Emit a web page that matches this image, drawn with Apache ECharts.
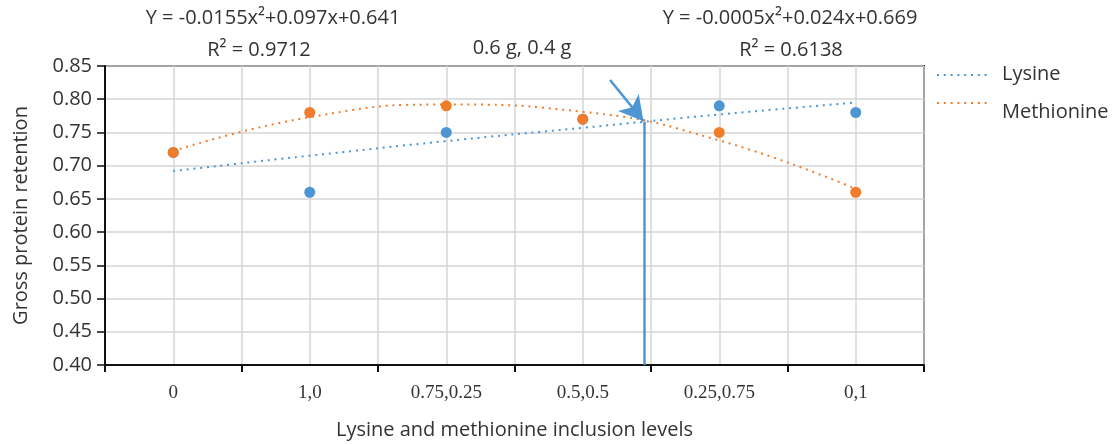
<!DOCTYPE html>
<html>
<head>
<meta charset="utf-8">
<script src="https://cdn.jsdelivr.net/npm/echarts@6/dist/echarts.min.js"></script>
<style>
html,body{margin:0;padding:0;background:#fff;}
#chart{width:1120px;height:445px;}
</style>
</head>
<body>
<div id="chart"></div>
<script>
// ---- data ----
var categories = ['0', '1,0', '0.75,0.25', '0.5,0.5', '0.25,0.75', '0,1'];
var lysine = [0.72, 0.66, 0.75, 0.77, 0.79, 0.78];
var methionine = [0.72, 0.78, 0.79, 0.77, 0.75, 0.66];
var lysineTrend = [0.692, 0.715, 0.737, 0.757, 0.777, 0.795];
var methionineTrend = [0.722, 0.773, 0.792, 0.781, 0.738, 0.665];
var yTicks = [0.40, 0.85, 0.05]; // min, max, interval
var optimumX = 3.952;          // position on 0..6 band scale
var optimumY = 0.766;
var arrowFrom = [3.70, 0.829];
var arrowTo = [3.945, 0.767];

var BLUE = '#4e95d3', ORANGE = '#ef7d2b', TXT = '#333333';
var SANS = '"Open Sans", "Noto Sans", sans-serif';
var SERIF = '"Liberation Serif", "DejaVu Serif", serif';
var FS = 20;

var chart = echarts.init(document.getElementById('chart'));
chart.setOption({
  backgroundColor: '#fff',
  animation: false,
  grid: { left: 105, right: 196, top: 66, bottom: 79, show: true, borderColor: '#111', borderWidth: 2, backgroundColor: 'transparent' },
  xAxis: [
    {
      type: 'value', min: 0, max: 6, interval: 0.5,
      axisLine: { show: false }, axisTick: { show: false }, axisLabel: { show: false },
      splitLine: { show: true, lineStyle: { color: '#d6d6d6', width: 1.5 } }
    },
    {
      type: 'category', data: categories, boundaryGap: true, position: 'bottom',
      axisLine: { show: true, lineStyle: { color: '#111', width: 2 } },
      axisTick: { show: true, length: 7, lineStyle: { color: '#111', width: 2 } },
      axisLabel: { color: TXT, fontFamily: SERIF, fontSize: 19, margin: 19 },
      splitLine: { show: false },
      name: 'Lysine and methionine inclusion levels', nameLocation: 'middle', nameGap: 55,
      nameTextStyle: { color: TXT, fontFamily: SANS, fontSize: FS }
    }
  ],
  yAxis: {
    type: 'value', min: yTicks[0], max: yTicks[1], interval: yTicks[2],
    axisLine: { show: true, lineStyle: { color: '#111', width: 2 } },
    axisTick: { show: true, length: 8, inside: false, lineStyle: { color: '#111', width: 1.5 } },
    axisLabel: { color: TXT, fontFamily: SANS, fontSize: FS, margin: 13, formatter: function (v) { return v.toFixed(2); } },
    splitLine: { show: true, lineStyle: { color: '#d6d6d6', width: 1.5 } },
    name: 'Gross protein retention', nameLocation: 'middle', nameGap: 74, nameRotate: 90,
    nameTextStyle: { color: TXT, fontFamily: SANS, fontSize: FS }
  },
  series: [
    {
      name: 'Lysine trend', type: 'line', xAxisIndex: 1, data: lysineTrend, smooth: true,
      symbol: 'none', lineStyle: { color: BLUE, width: 2, type: [2, 4.8] }, z: 3
    },
    {
      name: 'Methionine trend', type: 'line', xAxisIndex: 1, data: methionineTrend, smooth: true,
      symbol: 'none', lineStyle: { color: ORANGE, width: 2, type: [2, 4.8] }, z: 3
    },
    {
      name: 'Lysine', type: 'scatter', xAxisIndex: 1, data: lysine,
      symbol: 'circle', symbolSize: 11, itemStyle: { color: BLUE, opacity: 1 }, z: 4
    },
    {
      name: 'Methionine', type: 'scatter', xAxisIndex: 1, data: methionine,
      symbol: 'circle', symbolSize: 11, itemStyle: { color: ORANGE, opacity: 1 }, z: 5
    },
    {
      name: 'annot', type: 'line', xAxisIndex: 0, data: [], symbol: 'none',
      markLine: {
        silent: true, animation: false, label: { show: false },
        data: [
          [{ coord: [optimumX, yTicks[0]], symbol: 'none' }, { coord: [optimumX, optimumY], symbol: 'none' }],
          [{ coord: arrowFrom, symbol: 'none' }, { coord: arrowTo, symbol: 'arrow', symbolSize: [20, 24] }]
        ],
        lineStyle: { color: BLUE, width: 2.5, type: 'solid' }
      },
      z: 6
    }
  ],
  graphic: [
    { type: 'text', x: 273, y: 18, style: { text: 'Y = -0.0155x²+0.097x+0.641', fill: TXT, font: FS + 'px ' + SANS, align: 'center', verticalAlign: 'middle' } },
    { type: 'text', x: 259, y: 50, style: { text: 'R² = 0.9712', fill: TXT, font: FS + 'px ' + SANS, align: 'center', verticalAlign: 'middle' } },
    { type: 'text', x: 522, y: 48, style: { text: '0.6 g, 0.4 g', fill: TXT, font: FS + 'px ' + SANS, align: 'center', verticalAlign: 'middle' } },
    { type: 'text', x: 790, y: 18, style: { text: 'Y = -0.0005x²+0.024x+0.669', fill: TXT, font: FS + 'px ' + SANS, align: 'center', verticalAlign: 'middle' } },
    { type: 'text', x: 791, y: 50, style: { text: 'R² = 0.6138', fill: TXT, font: FS + 'px ' + SANS, align: 'center', verticalAlign: 'middle' } },
    { type: 'line', shape: { x1: 937, y1: 75, x2: 987, y2: 75 }, style: { stroke: BLUE, lineWidth: 2, lineDash: [2, 4.8] } },
    { type: 'text', x: 1002, y: 74, style: { text: 'Lysine', fill: TXT, font: FS + 'px ' + SANS, align: 'left', verticalAlign: 'middle' } },
    { type: 'line', shape: { x1: 937, y1: 103, x2: 987, y2: 103 }, style: { stroke: ORANGE, lineWidth: 2, lineDash: [2, 4.8] } },
    { type: 'text', x: 1002, y: 112, style: { text: 'Methionine', fill: TXT, font: FS + 'px ' + SANS, align: 'left', verticalAlign: 'middle' } }
  ]
});
</script>
</body>
</html>
